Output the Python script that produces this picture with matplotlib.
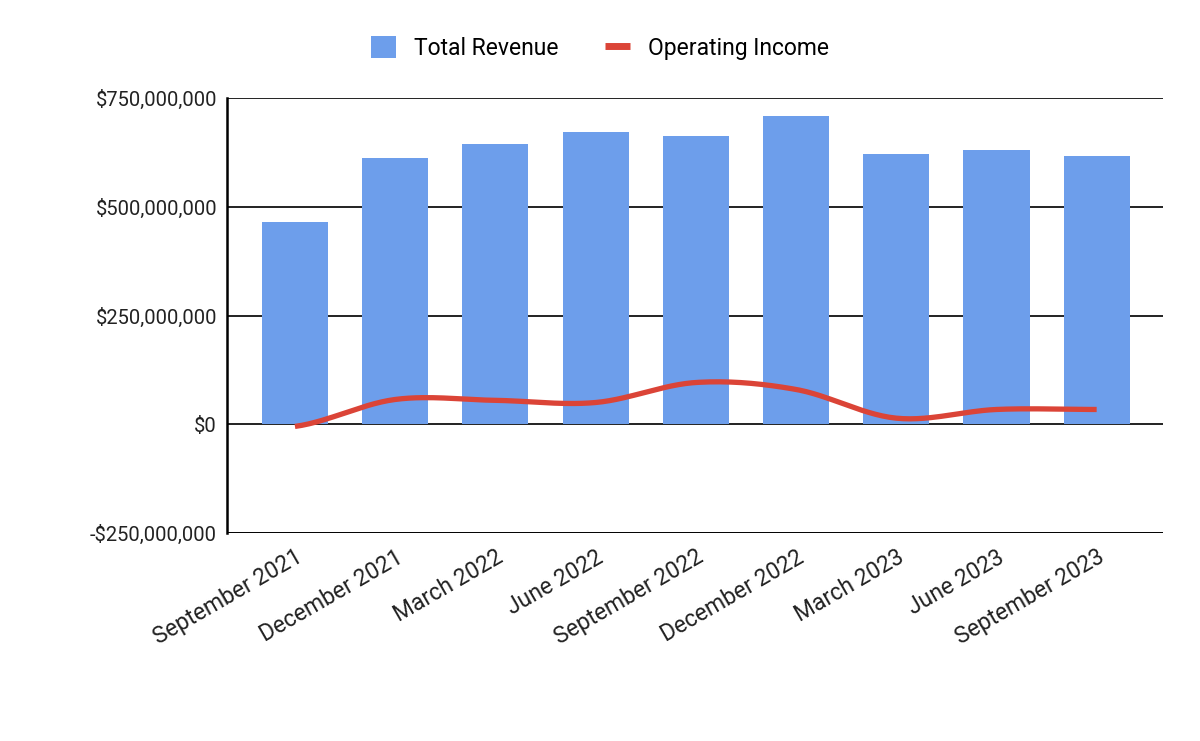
import numpy as np
import matplotlib.pyplot as plt
import matplotlib.transforms as mtransforms
from matplotlib.ticker import FuncFormatter
from matplotlib.patches import Patch
from matplotlib.lines import Line2D

quarters = ["September 2021", "December 2021", "March 2022", "June 2022",
            "September 2022", "December 2022", "March 2023", "June 2023",
            "September 2023"]
total_revenue = [465e6, 612e6, 645e6, 672e6, 663e6, 709e6, 622e6, 631e6, 617e6]
operating_income = [-5e6, 57e6, 55e6, 50e6, 96e6, 80e6, 14e6, 34e6, 34e6]
y_ticks = [-250e6, 0, 250e6, 500e6, 750e6]

BAR_COLOR = "#6d9eeb"
LINE_COLOR = "#db4437"


def smooth(x, y, n=30):
    # Catmull-Rom curve through the points, just for drawing
    x = np.asarray(x, float)
    y = np.asarray(y, float)
    px = np.concatenate([[2 * x[0] - x[1]], x, [2 * x[-1] - x[-2]]])
    py = np.concatenate([[y[0]], y, [y[-1]]])
    xs, ys = [], []
    t = np.linspace(0, 1, n)
    for i in range(1, len(px) - 2):
        for arr, out in ((px, xs), (py, ys)):
            p0, p1, p2, p3 = arr[i - 1], arr[i], arr[i + 1], arr[i + 2]
            out.extend(0.5 * (2 * p1 + (-p0 + p2) * t
                              + (2 * p0 - 5 * p1 + 4 * p2 - p3) * t ** 2
                              + (-p0 + 3 * p1 - 3 * p2 + p3) * t ** 3))
    return np.array(xs), np.array(ys)


plt.rcParams["font.family"] = ["Roboto", "DejaVu Sans"]

fig = plt.figure(figsize=(12, 7.41), dpi=100)
ax = fig.add_axes([0.189, 0.2807, 0.78, 0.587])

x = np.arange(len(quarters))
ax.bar(x, total_revenue, width=0.66, color=BAR_COLOR, zorder=3)
sx, sy = smooth(x, operating_income)
ax.plot(sx, sy, color=LINE_COLOR, lw=3.8, zorder=4, solid_capstyle="butt")

ax.set_xlim(-0.68, 8.66)
ax.set_ylim(-250e6, 750e6)
ax.set_yticks(y_ticks)
ax.yaxis.set_major_formatter(FuncFormatter(
    lambda v, p: f"-${abs(v):,.0f}" if v < 0 else f"${v:,.0f}"))
ax.set_xticks(x)
ax.set_xticklabels(quarters, rotation=30, ha="right", va="top",
                   rotation_mode="anchor", fontsize=16.5)
shift = mtransforms.ScaledTranslation(10 / 100, 0, fig.dpi_scale_trans)
for lab in ax.get_xticklabels():
    lab.set_transform(lab.get_transform() + shift)
ax.tick_params(axis="both", length=0, colors="#222222")
ax.tick_params(axis="y", labelsize=14.5, pad=7)
ax.tick_params(axis="x", pad=9)

ax.grid(axis="y", color="#222222", lw=1.4, zorder=1)
for s in ["top", "right", "bottom"]:
    ax.spines[s].set_visible(False)
ax.spines["left"].set_linewidth(1.8)
ax.spines["left"].set_color("black")
ax.axhline(-250e6, color="black", lw=2, zorder=2)

handles = [Patch(facecolor=BAR_COLOR, edgecolor="none", label="Total Revenue"),
           Line2D([], [], color=LINE_COLOR, lw=5, solid_capstyle="butt",
                  label="Operating Income")]
fig.legend(handles=handles, loc="center", bbox_to_anchor=(0.5, 0.935), ncol=2,
           frameon=False, fontsize=16.5, handlelength=1.1, handleheight=1.1,
           columnspacing=2.0, handletextpad=0.8)

fig.savefig("out.png", dpi=100)
